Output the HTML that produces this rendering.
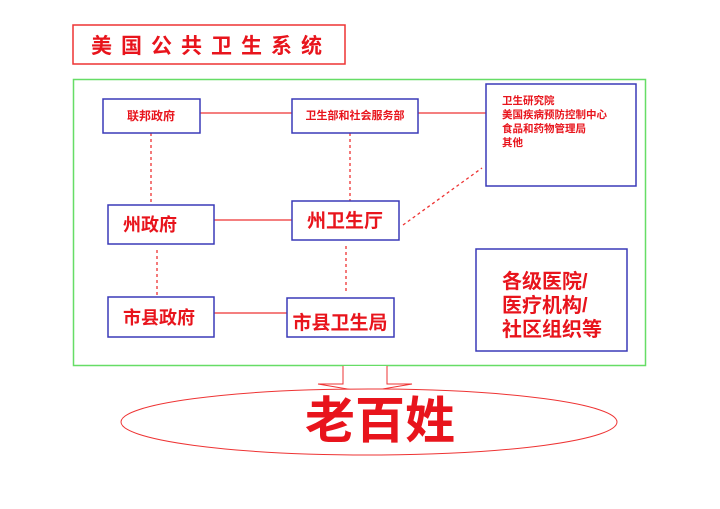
<!DOCTYPE html>
<html><head><meta charset="utf-8"><style>
html,body{margin:0;padding:0;background:#fff;width:720px;height:509px;overflow:hidden}
svg{display:block}
text{font-family:"Liberation Sans","Noto Sans CJK SC",sans-serif;fill:#e8141c}
</style></head><body>
<svg width="720" height="509" viewBox="0 0 720 509" xmlns="http://www.w3.org/2000/svg">
<rect x="73" y="25" width="272" height="39" fill="#fff" stroke="#e33" stroke-width="1.5"/>
<text x="211" y="53" font-size="21" font-weight="bold" text-anchor="middle" letter-spacing="9" font-family="Noto Serif CJK SC,serif">美国公共卫生系统</text>
<rect x="73.5" y="79.5" width="572" height="286" fill="none" stroke="#66dd66" stroke-width="1.5"/>
<g stroke="#e33" stroke-width="1.3" fill="none">
<line x1="200" y1="113" x2="292" y2="113"/>
<line x1="418" y1="113" x2="486" y2="113"/>
<line x1="214" y1="220" x2="292" y2="220"/>
<line x1="214" y1="313" x2="287" y2="313"/>
<g stroke-dasharray="3,3">
<line x1="151" y1="133" x2="151" y2="205"/>
<line x1="350" y1="133" x2="350" y2="201"/>
<line x1="157" y1="250" x2="157" y2="295"/>
<line x1="346" y1="246" x2="346" y2="293"/>
<line x1="403" y1="225" x2="482" y2="168"/>
</g>
</g>
<g fill="#fff" stroke="#3a3ab8" stroke-width="1.5">
<rect x="103" y="99" width="97" height="34"/>
<rect x="292" y="99" width="126" height="34"/>
<rect x="486" y="84" width="150" height="102"/>
<rect x="108" y="205" width="106" height="39"/>
<rect x="292" y="201" width="107" height="39"/>
<rect x="108" y="297" width="106" height="40"/>
<rect x="287" y="298" width="107" height="39"/>
<rect x="476" y="249" width="151" height="102"/>
</g>
<text x="151" y="120" font-size="12" text-anchor="middle" font-weight="bold">联邦政府</text>
<text x="355" y="119" font-size="11" text-anchor="middle" font-weight="bold">卫生部和社会服务部</text>
<g font-size="10.5" font-weight="bold">
<text x="502" y="104">卫生研究院</text>
<text x="502" y="118">美国疾病预防控制中心</text>
<text x="502" y="132">食品和药物管理局</text>
<text x="502" y="146">其他</text>
</g>
<g font-weight="bold">
<text x="150" y="231" font-size="18" text-anchor="middle">州政府</text>
<text x="345" y="227" font-size="19" text-anchor="middle">州卫生厅</text>
<text x="159" y="324" font-size="18" text-anchor="middle">市县政府</text>
<text x="340" y="329" font-size="19" text-anchor="middle">市县卫生局</text>
<g font-size="20">
<text x="502" y="288">各级医院/</text>
<text x="502" y="312">医疗机构/</text>
<text x="502" y="336">社区组织等</text>
</g>
</g>
<path d="M343,366 L343,384 L318,384 L365,392 L412,384 L387,384 L387,366" fill="#fff" stroke="#e33" stroke-width="1"/>
<ellipse cx="369" cy="422" rx="248" ry="33" fill="#fff" stroke="#e33" stroke-width="1"/>
<text x="380" y="438" font-size="50" font-weight="bold" text-anchor="middle">老百姓</text>
</svg>
</body></html>
